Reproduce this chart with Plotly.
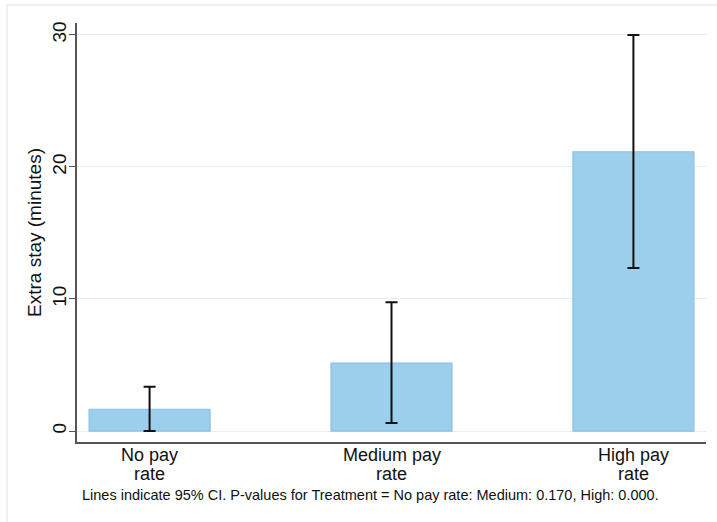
import plotly.graph_objects as go

categories = ["No pay<br>rate", "Medium pay<br>rate", "High pay<br>rate"]
means = [1.65, 5.15, 21.15]
ci_low = [0.0, 0.6, 12.35]
ci_high = [3.35, 9.75, 30.0]
y_ticks = [0, 10, 20, 30]
caption = "Lines indicate 95% CI. P-values for Treatment = No pay rate: Medium: 0.170, High: 0.000."

x_pos = list(range(len(categories)))
err_plus = [h - m for h, m in zip(ci_high, means)]
err_minus = [m - l for m, l in zip(means, ci_low)]

fig = go.Figure()
fig.add_trace(go.Bar(
    x=x_pos, y=means, width=0.5,
    marker=dict(color="#9ccfec", line=dict(color="#86c2e6", width=1.2)),
    error_y=dict(type="data", array=err_plus, arrayminus=err_minus,
                 color="#111111", thickness=2, width=6, visible=True),
    showlegend=False,
))

font = "Liberation Sans, Arial, Helvetica, sans-serif"
PH = 419  # plot height in px
fig.update_layout(
    width=717, height=522,
    margin=dict(l=77, r=11, t=23, b=80, autoexpand=False),
    paper_bgcolor="white", plot_bgcolor="white",
    font=dict(family=font, color="#111111"),
)
fig.update_xaxes(
    range=[-0.3, 2.3], tickvals=x_pos, showticklabels=False,
    showgrid=False, zeroline=False, showline=True, linecolor="#555555", linewidth=1.5,
    ticks="",
)
fig.update_yaxes(
    range=[-0.83, 30.9], tickvals=y_ticks,
    showgrid=True, gridcolor="#e8efef", gridwidth=1.2, zeroline=False,
    showline=True, linecolor="#555555", linewidth=1.5,
    ticks="outside", ticklen=6, tickcolor="#555555", tickangle=-90,
    ticklabelstandoff=-4,
    tickfont=dict(size=19, family=font, color="#111111"),
    title=dict(text="Extra stay (minutes)", font=dict(size=19, family=font, color="#111111"), standoff=2),
    automargin=False,
)
# category labels, one annotation per line for tighter line spacing
for xi, cat in zip(x_pos, categories):
    for li, line in enumerate(cat.split("<br>")):
        fig.add_annotation(
            xref="x", yref="paper", x=xi, y=-(13 + 19 * li) / PH,
            text=line, showarrow=False, xanchor="center", yanchor="middle",
            font=dict(size=18, family=font, color="#111111"),
        )
fig.add_annotation(
    xref="paper", yref="paper", x=(370 - 77) / 629, y=-53 / PH,
    text=caption, showarrow=False, xanchor="center", yanchor="middle",
    font=dict(size=14.5, family=font, color="#111111"),
)
fig.add_shape(
    type="rect", xref="paper", yref="paper",
    x0=(7 - 77) / 629, x1=1.2, y0=-0.5, y1=(442 - 5) / PH,
    line=dict(color="#e6eded", width=1.5), fillcolor="rgba(0,0,0,0)", layer="below",
)
fig.write_html("out.html", config={"displayModeBar": False},
               post_script="document.body.style.margin='0px';")
